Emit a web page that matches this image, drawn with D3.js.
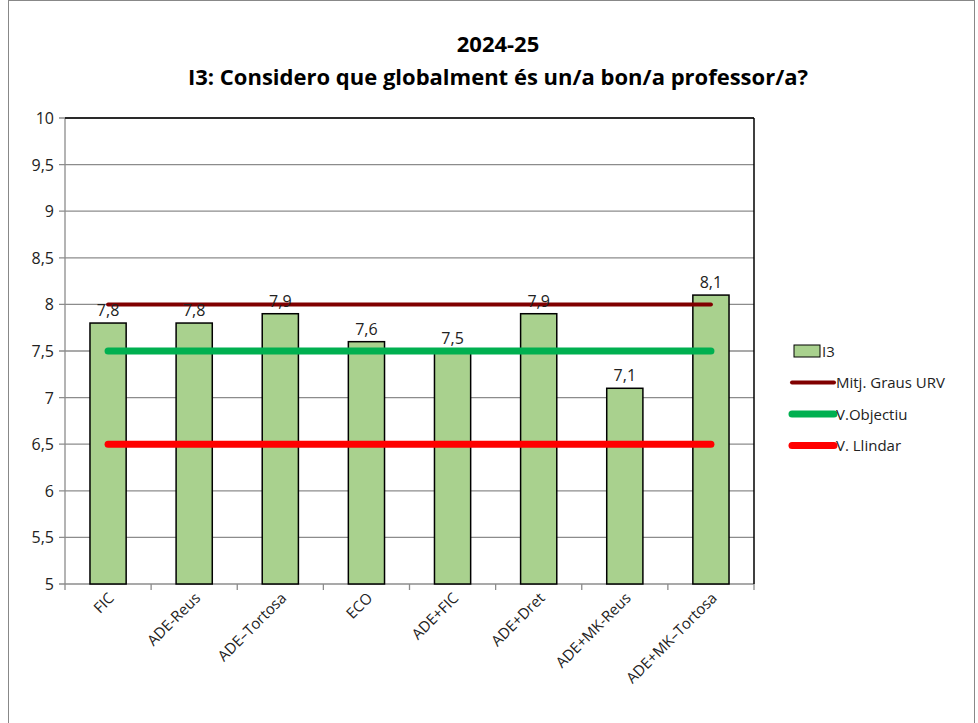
<!DOCTYPE html>
<html><head><meta charset="utf-8">
<script src="https://cdn.jsdelivr.net/npm/d3@7"></script>
<style>body{margin:0;background:#fff;font-family:"Open Sans",Calibri,sans-serif}</style>
</head><body>
<svg id="chart" width="978" height="723"></svg>
<script>
// data
var categories = ["FIC","ADE-Reus","ADE\u2013Tortosa","ECO","ADE+FIC","ADE+Dret","ADE+MK-Reus","ADE+MK\u2013Tortosa"];
var i3Values = [7.8,7.8,7.9,7.6,7.5,7.9,7.1,8.1];
var mitjGraus = 8;
var objectiu = 7.5;
var llindar = 6.5;
var yTicks = [5,5.5,6,6.5,7,7.5,8,8.5,9,9.5,10];

var svg = d3.select("#chart");
var fmt = function(v){ return String(v).replace(".", ","); };

// chart border
svg.append("rect").attr("x",8.5).attr("y",0.5).attr("width",966).attr("height",740)
  .attr("fill","none").attr("stroke","#888");

svg.append("text").attr("x",498).attr("y",52).attr("text-anchor","middle")
  .attr("font-size",22).attr("font-weight","bold").text("2024-25");
svg.append("text").attr("x",498).attr("y",85).attr("text-anchor","middle")
  .attr("font-size",22).attr("font-weight","bold").text("I3: Considero que globalment és un/a bon/a professor/a?");

var pLeft = 65, pRight = 754, pTop = 118, pBottom = 584;
var x = d3.scaleBand().domain(categories).range([pLeft,pRight]).paddingInner(0.58).paddingOuter(0.29);
var y = d3.scaleLinear().domain([5,10]).range([pBottom,pTop]);

// grid
svg.append("g").selectAll("line").data(yTicks).enter().append("line")
  .attr("x1",pLeft-6).attr("x2",pRight).attr("y1",function(d){return y(d);}).attr("y2",function(d){return y(d);})
  .attr("stroke","#8c8c8c").attr("stroke-width",1.3);
svg.append("g").selectAll("text").data(yTicks).enter().append("text")
  .attr("x",pLeft-11).attr("y",function(d){return y(d)+6;}).attr("text-anchor","end")
  .attr("font-size",16).attr("fill","#222").text(fmt);

svg.append("line").attr("x1",pLeft).attr("x2",pLeft).attr("y1",pTop).attr("y2",pBottom).attr("stroke","#8c8c8c").attr("stroke-width",1.3);
svg.append("line").attr("x1",pRight).attr("x2",pRight).attr("y1",pTop).attr("y2",pBottom).attr("stroke","#000").attr("stroke-width",1.5);
svg.append("line").attr("x1",pLeft).attr("x2",pRight).attr("y1",pTop).attr("y2",pTop).attr("stroke","#000").attr("stroke-width",1.5);

// x ticks
var bounds = [pLeft].concat(categories.map(function(c){return x(c)+x.bandwidth()+x.step()*x.paddingInner()/2;}));
svg.append("g").selectAll("line").data(bounds).enter().append("line")
  .attr("x1",function(d){return d;}).attr("x2",function(d){return d;})
  .attr("y1",pBottom).attr("y2",pBottom+6).attr("stroke","#8c8c8c").attr("stroke-width",1.3);

// bars
svg.append("g").selectAll("rect").data(i3Values).enter().append("rect")
  .attr("x",function(d,i){return x(categories[i]);}).attr("width",x.bandwidth())
  .attr("y",function(d){return y(d);}).attr("height",function(d){return pBottom-y(d);})
  .attr("fill","#a9d18e").attr("stroke","#000").attr("stroke-width",1.5);

// reference lines
var x0 = x(categories[0])+x.bandwidth()/2, x1 = x(categories[categories.length-1])+x.bandwidth()/2;
[[mitjGraus,"#800000",4],[objectiu,"#00b050",7],[llindar,"#ff0000",7]].forEach(function(r){
  svg.append("line").attr("x1",x0).attr("x2",x1).attr("y1",y(r[0])).attr("y2",y(r[0]))
    .attr("stroke",r[1]).attr("stroke-width",r[2]).attr("stroke-linecap","round");
});

// value labels
svg.append("g").selectAll("text").data(i3Values).enter().append("text")
  .attr("x",function(d,i){return x(categories[i])+x.bandwidth()/2;})
  .attr("y",function(d){return y(d)-7;}).attr("text-anchor","middle")
  .attr("font-size",16).attr("fill","#222").text(fmt);

// category labels
svg.append("g").selectAll("text").data(categories).enter().append("text")
  .attr("transform",function(d){return "translate("+(x(d)+x.bandwidth()/2+7)+","+(pBottom+15)+") rotate(-45)";})
  .attr("text-anchor","end").attr("font-size",15).attr("fill","#222").text(function(d){return d;});

// legend
var legend = [
  {name:"I3", type:"bar"},
  {name:"Mitj. Graus URV", color:"#800000", w:4},
  {name:"V.Objectiu", color:"#00b050", w:7},
  {name:"V. Llindar", color:"#ff0000", w:7}
];
var lg = svg.append("g").selectAll("g").data(legend).enter().append("g")
  .attr("transform",function(d,i){return "translate(790,"+(351+i*31.5)+")";});
lg.each(function(d){
  var g = d3.select(this);
  if(d.type==="bar") g.append("rect").attr("x",4).attr("y",-6).attr("width",26).attr("height",12)
    .attr("fill","#a9d18e").attr("stroke","#000");
  else g.append("line").attr("x1",2).attr("x2",44).attr("y1",0).attr("y2",0)
    .attr("stroke",d.color).attr("stroke-width",d.w).attr("stroke-linecap","round");
});
lg.append("text").attr("x",d=>d.type==="bar"?32:46).attr("y",5.5).attr("font-size",15).attr("fill","#222").text(d=>d.name);
</script>
</body></html>
